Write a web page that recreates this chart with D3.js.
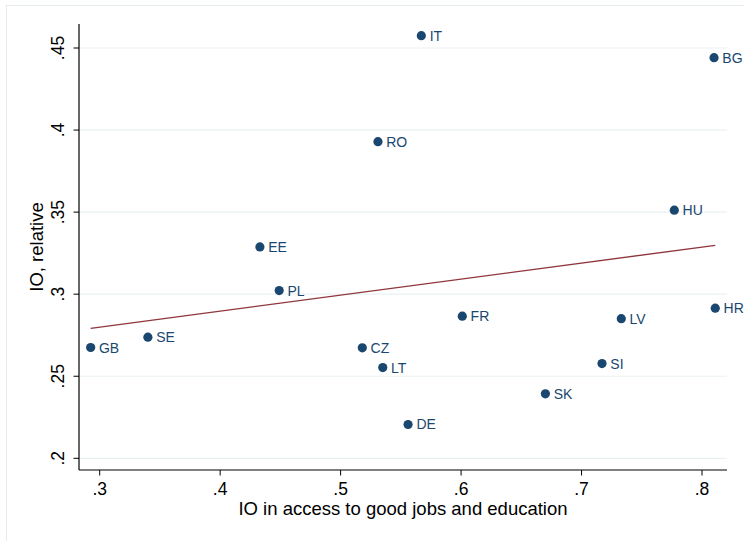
<!DOCTYPE html>
<html>
<head>
<meta charset="utf-8">
<script src="https://cdn.jsdelivr.net/npm/d3@7"></script>
<style>
  html, body { margin: 0; padding: 0; background: #ffffff; }
  svg { display: block; font-family: "Liberation Sans", Arial, sans-serif; }
</style>
</head>
<body>
<svg id="chart" width="744" height="541"></svg>
<script>
// Country codes and their two measures
const countries = ["IT", "BG", "RO", "HU", "EE", "PL", "FR", "LV", "HR", "CZ", "LT", "SI", "SK", "DE", "GB", "SE"];
const accessIO  = [0.567, 0.810, 0.531, 0.777, 0.433, 0.449, 0.601, 0.733, 0.811, 0.518, 0.535, 0.717, 0.670, 0.556, 0.2925, 0.340];
const relIO     = [0.4575, 0.4441, 0.3929, 0.3512, 0.3288, 0.3022, 0.2866, 0.2851, 0.2915, 0.2673, 0.2553, 0.2577, 0.2393, 0.2206, 0.2675, 0.2738];

// Axis ticks
const xTicks = [0.3, 0.4, 0.5, 0.6, 0.7, 0.8];
const yTicks = [0.2, 0.25, 0.3, 0.35, 0.4, 0.45];

const fmt = v => String(v).replace(/^0(?=\.)/, "");

const svg = d3.select("#chart");

// Outer graph frame
svg.append("rect")
  .attr("x", 6.5).attr("y", 5.5)
  .attr("width", 780).attr("height", 580)
  .attr("fill", "#ffffff")
  .attr("stroke", "#e3ebee")
  .attr("stroke-width", 1);

const x = d3.scaleLinear().domain([0.3, 0.8]).range([99.7, 702]);
const y = d3.scaleLinear().domain([0.2, 0.45]).range([458.3, 48]);

const plotL = 79, plotR = 727, plotT = 24, plotB = 470;

// Horizontal grid lines
svg.append("g")
  .selectAll("line")
  .data(yTicks)
  .join("line")
  .attr("x1", plotL).attr("x2", plotR)
  .attr("y1", d => y(d)).attr("y2", d => y(d))
  .attr("stroke", "#eaf1f3")
  .attr("stroke-width", 1.2);

// Fitted values (least squares)
const n = countries.length;
const mx = d3.mean(accessIO), my = d3.mean(relIO);
let sxy = 0, sxx = 0;
for (let i = 0; i < n; i++) {
  sxy += (accessIO[i] - mx) * (relIO[i] - my);
  sxx += (accessIO[i] - mx) ** 2;
}
const slope = sxy / sxx;
const intercept = my - slope * mx;
const [xMin, xMax] = d3.extent(accessIO);

svg.append("line")
  .attr("x1", x(xMin)).attr("y1", y(intercept + slope * xMin))
  .attr("x2", x(xMax)).attr("y2", y(intercept + slope * xMax))
  .attr("stroke", "#90353b")
  .attr("stroke-width", 1.4);

// Points and labels
const pts = svg.append("g");
countries.forEach((c, i) => {
  pts.append("circle")
    .attr("cx", x(accessIO[i])).attr("cy", y(relIO[i]))
    .attr("r", 4.6)
    .attr("fill", "#1a476f");
  pts.append("text")
    .attr("x", x(accessIO[i]) + 8.3)
    .attr("y", y(relIO[i]) + 5)
    .attr("font-size", 14)
    .attr("fill", "#1a476f")
    .text(c);
});

// X axis
const xAxis = svg.append("g").attr("transform", `translate(0,${plotB})`);
xAxis.append("line")
  .attr("x1", plotL).attr("x2", plotR)
  .attr("y1", 0).attr("y2", 0)
  .attr("stroke", "#000").attr("stroke-width", 1.2);
xAxis.selectAll("line.tick")
  .data(xTicks).join("line")
  .attr("class", "tick")
  .attr("x1", d => x(d)).attr("x2", d => x(d))
  .attr("y1", 0).attr("y2", 5.5)
  .attr("stroke", "#000").attr("stroke-width", 1);
xAxis.selectAll("text")
  .data(xTicks).join("text")
  .attr("x", d => x(d)).attr("y", 25)
  .attr("text-anchor", "middle")
  .attr("font-size", 17.5)
  .attr("fill", "#000")
  .text(fmt);

svg.append("text")
  .attr("x", (plotL + plotR) / 2).attr("y", 515)
  .attr("text-anchor", "middle")
  .attr("font-size", 18.5)
  .attr("fill", "#000")
  .text("IO in access to good jobs and education");

// Y axis
const yAxis = svg.append("g").attr("transform", `translate(${plotL},0)`);
yAxis.append("line")
  .attr("x1", 0).attr("x2", 0)
  .attr("y1", plotT).attr("y2", plotB)
  .attr("stroke", "#000").attr("stroke-width", 1.2);
yAxis.selectAll("line.tick")
  .data(yTicks).join("line")
  .attr("class", "tick")
  .attr("x1", -5.5).attr("x2", 0)
  .attr("y1", d => y(d)).attr("y2", d => y(d))
  .attr("stroke", "#000").attr("stroke-width", 1);
yAxis.selectAll("text")
  .data(yTicks).join("text")
  .attr("transform", d => `translate(-15.5,${y(d)}) rotate(-90)`)
  .attr("text-anchor", "middle")
  .attr("font-size", 17.5)
  .attr("fill", "#000")
  .text(fmt);

svg.append("text")
  .attr("transform", `translate(43.3,${(plotT + plotB) / 2}) rotate(-90)`)
  .attr("text-anchor", "middle")
  .attr("font-size", 18.5)
  .attr("fill", "#000")
  .text("IO, relative");
</script>
</body>
</html>
